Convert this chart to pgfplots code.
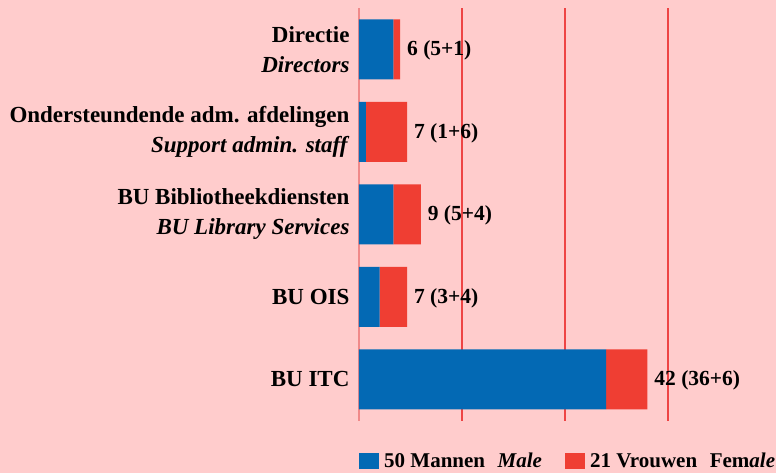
\documentclass[border=0pt]{standalone}
\usepackage{fontspec}
\setmainfont{Liberation Serif}
\usepackage{pgfplots}
\usepackage{pgfplotstable}
\pgfplotsset{compat=1.18}
\definecolor{bg}{HTML}{FFCCCC}
\definecolor{mblue}{HTML}{0369B4}
\definecolor{fred}{HTML}{EF3E33}
\definecolor{gridred}{HTML}{EE4444}
\definecolor{axisred}{HTML}{F08A8A}
\pgfplotstableread{
pos male female label
0 5 1 {6 (5+1)}
1 1 6 {7 (1+6)}
2 5 4 {9 (5+4)}
3 3 4 {7 (3+4)}
4 36 6 {42 (36+6)}
}\datatable
\begin{document}
\begin{tikzpicture}
\fill[bg] (-359pt,-465pt) rectangle (417pt,8pt);
\useasboundingbox (-359pt,-465pt) rectangle (417pt,8pt);
\begin{axis}[
  at={(0pt,0pt)}, anchor=north west,
  x=6.8667pt, y=82.5pt, y dir=reverse,
  xmin=0, xmax=45, ymin=-0.5, ymax=4.5,
  xbar stacked, bar width=60pt,
  axis line style={draw=none},
  major tick length=0pt,
  xtick={15,30,45}, xticklabels={},
  extra x ticks={0}, extra x tick labels={},
  extra x tick style={grid style={axisred, line width=1.5pt}},
  xmajorgrids, grid style={gridred, line width=1.1pt},
  ytick={0,1,2,3,4},
  yticklabels={{Directie\\\textit{Directors}},{Ondersteundende adm. afdelingen\\\textit{Support admin. staff}},{BU Bibliotheekdiensten\\\textit{BU Library Services}},{BU OIS},{BU ITC}},
  yticklabel style={align=right, font=\fontsize{23}{30}\selectfont\bfseries, xshift=-6pt},
  clip=false,
  legend style={at={(axis cs:0,4.5)}, anchor=north west, yshift=-30pt, draw=none, fill=none, inner sep=0pt,
    font=\fontsize{21}{25}\selectfont\bfseries, legend columns=2,
    /tikz/every odd column/.append style={column sep=3pt},
    /tikz/every even column/.append style={column sep=21pt}},
  legend image code/.code={\fill[#1] (-1pt,-8pt) rectangle (19pt,8pt);},
]
\addplot[fill=mblue, draw=none] table[x=male, y=pos] {\datatable};
\addlegendentry{50 Mannen\hspace{0.6em}\textit{Male}}
\addplot[fill=fred, draw=none, nodes near coords, point meta=explicit symbolic,
  visualization depends on={rawx \as \fem},
  every node near coord/.append style={anchor=west, xshift={\fem*3.43335pt+3.5pt}, yshift=-1.5pt, text=black, font=\fontsize{21.5}{25}\selectfont\bfseries}]
  table[x=female, y=pos, meta=label] {\datatable};
\addlegendentry{21 Vrouwen\hspace{0.6em}Fem\textit{ale}}
\end{axis}
\end{tikzpicture}
\end{document}
